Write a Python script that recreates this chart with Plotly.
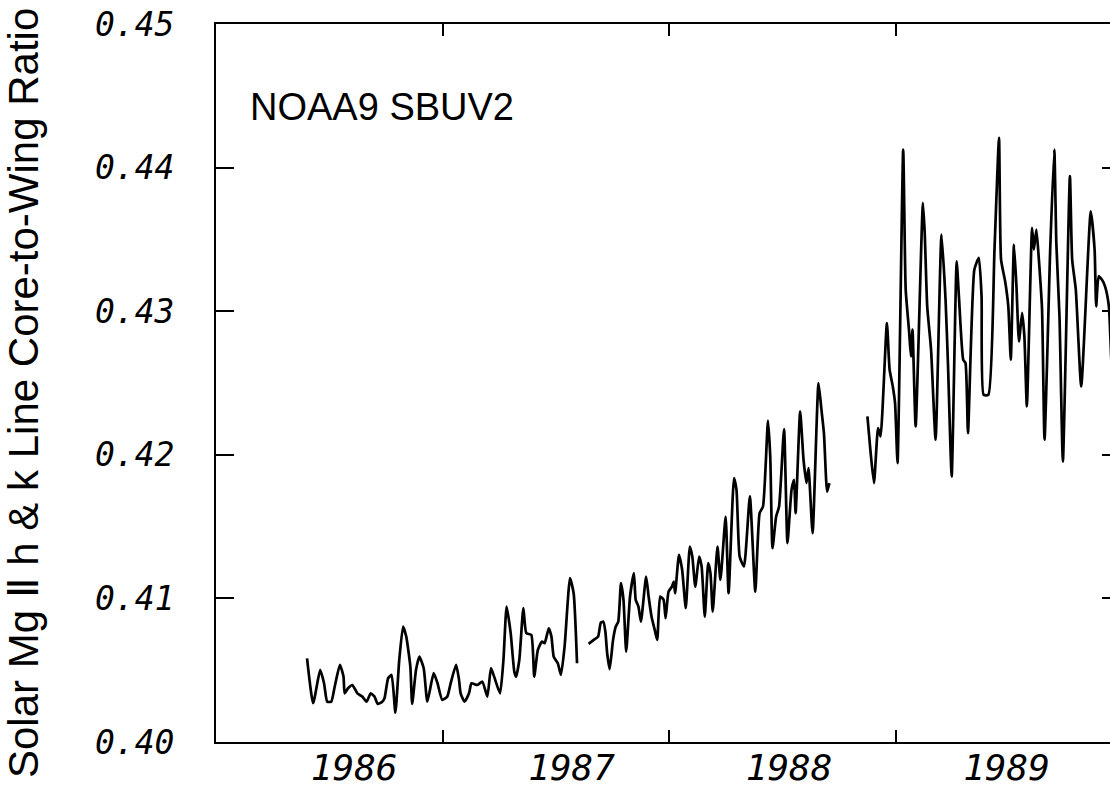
import plotly.graph_objects as go

# ---- data (decimal year, Mg II core-to-wing ratio) ----
seg1_year = [1986.402, 1986.429, 1986.460, 1986.477, 1986.491, 1986.509, 1986.524, 1986.547, 1986.563, 1986.568,
             1986.583, 1986.602, 1986.624, 1986.646, 1986.665, 1986.683, 1986.700, 1986.714, 1986.734, 1986.744,
             1986.760, 1986.775, 1986.792, 1986.809, 1986.826, 1986.840, 1986.858, 1986.866, 1986.883, 1986.898,
             1986.917, 1986.933, 1986.961, 1986.978, 1986.999, 1987.021, 1987.036, 1987.060, 1987.073, 1987.080,
             1987.097, 1987.117, 1987.128, 1987.154, 1987.176, 1987.198, 1987.214, 1987.228, 1987.254, 1987.269,
             1987.283, 1987.301, 1987.317, 1987.325, 1987.339, 1987.357, 1987.370, 1987.392, 1987.405, 1987.421,
             1987.439, 1987.451, 1987.469, 1987.481, 1987.491, 1987.509, 1987.523, 1987.539, 1987.563, 1987.579,
             1987.594]
seg1_ratio = [0.40583, 0.40270, 0.40502, 0.40409, 0.40281, 0.40281, 0.40385, 0.40537, 0.40455, 0.40339,
              0.40374, 0.40397, 0.40339, 0.40316, 0.40281, 0.40339, 0.40316, 0.40265, 0.40281, 0.40305,
              0.40444, 0.40467, 0.40204, 0.40571, 0.40804, 0.40734, 0.40525, 0.40265, 0.40502, 0.40594,
              0.40514, 0.40281, 0.40479, 0.40409, 0.40293, 0.40316, 0.40409, 0.40537, 0.40432, 0.40339,
              0.40281, 0.40339, 0.40409, 0.40397, 0.40420, 0.40316, 0.40514, 0.40455, 0.40339, 0.40571,
              0.40943, 0.40758, 0.40490, 0.40455, 0.40571, 0.40932, 0.40758, 0.40746, 0.40455, 0.40641,
              0.40699, 0.40688, 0.40792, 0.40734, 0.40594, 0.40548, 0.40467, 0.40664, 0.41141, 0.41036,
              0.40548]

seg2_year = [1987.645, 1987.672, 1987.687, 1987.699, 1987.710, 1987.719, 1987.727, 1987.738, 1987.753, 1987.765,
             1987.776, 1987.788, 1987.799, 1987.811, 1987.828, 1987.845, 1987.853, 1987.865, 1987.876, 1987.899,
             1987.910, 1987.923, 1987.937, 1987.948, 1987.961, 1987.976, 1987.985, 1987.998, 1988.013, 1988.021,
             1988.027, 1988.044, 1988.058, 1988.074, 1988.092, 1988.103, 1988.116, 1988.133, 1988.144, 1988.158,
             1988.173, 1988.183, 1988.193, 1988.214, 1988.227, 1988.250, 1988.263, 1988.287, 1988.298, 1988.312,
             1988.331, 1988.357, 1988.381, 1988.400, 1988.415, 1988.437, 1988.447, 1988.457, 1988.473, 1988.486,
             1988.508, 1988.523, 1988.541, 1988.552, 1988.559, 1988.579, 1988.594, 1988.607, 1988.616, 1988.634,
             1988.660, 1988.673, 1988.684, 1988.698, 1988.708]
seg2_ratio = [0.40683, 0.40716, 0.40734, 0.40831, 0.40838, 0.40769, 0.40618, 0.40507, 0.40711, 0.40804,
              0.40838, 0.41106, 0.40990, 0.40629, 0.41013, 0.41176, 0.40990, 0.40943, 0.40838, 0.41152,
              0.41013, 0.40873, 0.40781, 0.40711, 0.41013, 0.40990, 0.40862, 0.41047, 0.41082, 0.41117,
              0.41036, 0.41303, 0.41199, 0.40932, 0.41361, 0.41291, 0.41082, 0.41291, 0.41222, 0.40873,
              0.41245, 0.41176, 0.40908, 0.41361, 0.41129, 0.41570, 0.41036, 0.41838, 0.41756, 0.41291,
              0.41222, 0.41710, 0.41047, 0.41594, 0.41640, 0.42239, 0.41988, 0.41350, 0.41570, 0.41640,
              0.42179, 0.41385, 0.41756, 0.41826, 0.41594, 0.42302, 0.41965, 0.41803, 0.41907, 0.41454,
              0.42500, 0.42314, 0.42151, 0.41744, 0.41803]

seg3_year = [1988.876, 1988.889, 1988.905, 1988.923, 1988.934, 1988.962, 1988.974, 1988.988, 1988.998, 1989.009,
             1989.034, 1989.045, 1989.060, 1989.068, 1989.075, 1989.089, 1989.121, 1989.129, 1989.140, 1989.157,
             1989.177, 1989.203, 1989.221, 1989.232, 1989.248, 1989.270, 1989.280, 1989.299, 1989.309, 1989.320,
             1989.348, 1989.368, 1989.380, 1989.389, 1989.410, 1989.437, 1989.457, 1989.466, 1989.484, 1989.498,
             1989.509, 1989.523, 1989.534, 1989.545, 1989.559, 1989.569, 1989.580, 1989.603, 1989.611, 1989.622,
             1989.633, 1989.647, 1989.658, 1989.683, 1989.701, 1989.710, 1989.724, 1989.739, 1989.770, 1989.780,
             1989.796, 1989.820, 1989.862, 1989.879, 1989.886, 1989.897, 1989.911, 1989.925, 1989.942, 1989.956,
             1989.969]
seg3_ratio = [0.42267, 0.42035, 0.41803, 0.42186, 0.42128, 0.42918, 0.42592, 0.42476, 0.42360, 0.41942,
              0.44126, 0.43150, 0.42859, 0.42685, 0.42871, 0.42197, 0.43754, 0.43545, 0.43034, 0.42732,
              0.42105, 0.43533, 0.43080, 0.42616, 0.41849, 0.43347, 0.43103, 0.42662, 0.42639, 0.42151,
              0.43289, 0.43371, 0.43103, 0.42418, 0.42418, 0.43429, 0.44207, 0.43359, 0.43208, 0.43034,
              0.42662, 0.43464, 0.43173, 0.42790, 0.42988, 0.42825, 0.42337, 0.43580, 0.43429, 0.43568,
              0.43359, 0.43011, 0.42105, 0.43429, 0.44126, 0.43475, 0.42964, 0.41953, 0.43940, 0.43359,
              0.43150, 0.42476, 0.43696, 0.43429, 0.43034, 0.43243, 0.43220, 0.43173, 0.43034, 0.42592,
              0.42732]

year_label_pos = [1986.61, 1987.57, 1988.53, 1989.49]
year_labels = ["1986", "1987", "1988", "1989"]
year_boundaries = [1987, 1988, 1989]
y_ticks = [0.40, 0.41, 0.42, 0.43, 0.44, 0.45]
y_ticktext = ["0.40", "0.41", "0.42", "0.43", "0.44", "0.45"]
right_ticks = [0.41, 0.42, 0.43, 0.44]

line_style = dict(color="black", width=2.7, shape="spline", smoothing=0.5)

fig = go.Figure()
fig.add_trace(go.Scatter(x=seg1_year, y=seg1_ratio, mode="lines", line=line_style, showlegend=False,
                         xaxis="x2"))
fig.add_trace(go.Scatter(x=seg2_year, y=seg2_ratio, mode="lines", line=line_style, showlegend=False))
fig.add_trace(go.Scatter(x=seg3_year, y=seg3_ratio, mode="lines", line=line_style, showlegend=False,
                         yaxis="y2"))

tick_font_y = dict(family="DejaVu Sans Mono", size=33, color="black", style="italic")
tick_font_x = dict(family="DejaVu Sans Mono", size=36, color="black", style="italic")
x_range = [1986, 1989.947]
y_range = [0.40, 0.45]

fig.update_layout(
    width=1110, height=791,
    margin=dict(l=216, r=0, t=24, b=49, autoexpand=False),
    paper_bgcolor="white", plot_bgcolor="white",
    xaxis=dict(
        range=x_range, automargin=False,
        showline=True, linecolor="black", linewidth=2, mirror=True,
        showgrid=False, zeroline=False,
        tickmode="array", tickvals=year_label_pos, ticktext=year_labels,
        ticks="", tickfont=tick_font_x, ticklabelstandoff=-7,
        minor=dict(tickmode="array", tickvals=year_boundaries, ticks="inside", ticklen=12,
                   tickwidth=2, tickcolor="black", showgrid=False),
    ),
    xaxis2=dict(
        range=x_range, overlaying="x", side="top", anchor="y", automargin=False,
        showline=False, showgrid=False, zeroline=False,
        tickmode="array", tickvals=year_boundaries, showticklabels=False,
        ticks="inside", ticklen=12, tickwidth=2, tickcolor="black",
    ),
    yaxis=dict(
        range=y_range, automargin=False,
        showline=True, linecolor="black", linewidth=2, mirror=False,
        showgrid=False, zeroline=False,
        tickmode="array", tickvals=y_ticks, ticktext=y_ticktext,
        ticks="inside", ticklen=18, tickwidth=2, tickcolor="black",
        tickfont=tick_font_y, ticklabelstandoff=33,
    ),
    yaxis2=dict(
        range=y_range, overlaying="y", side="right", anchor="x", automargin=False,
        showline=False, showgrid=False, zeroline=False,
        tickmode="array", tickvals=right_ticks, showticklabels=False,
        ticks="inside", ticklen=8, tickwidth=2, tickcolor="black",
    ),
    annotations=[
        dict(text="NOAA9 SBUV2", xref="paper", yref="paper", x=0.036, y=0.884,
             xanchor="left", yanchor="middle", showarrow=False,
             font=dict(family="Liberation Sans", size=38, color="black")),
        dict(text="Solar Mg \u2161 h & k Line Core-to-Wing Ratio", xref="paper", yref="paper",
             x=0, xshift=-193, y=0.486, xanchor="center", yanchor="middle", textangle=-90,
             showarrow=False, font=dict(family="Liberation Sans", size=42, color="black")),
    ],
)

fig.write_html("out.html", config={"displayModeBar": False},
               post_script="document.body.style.margin='0';")
